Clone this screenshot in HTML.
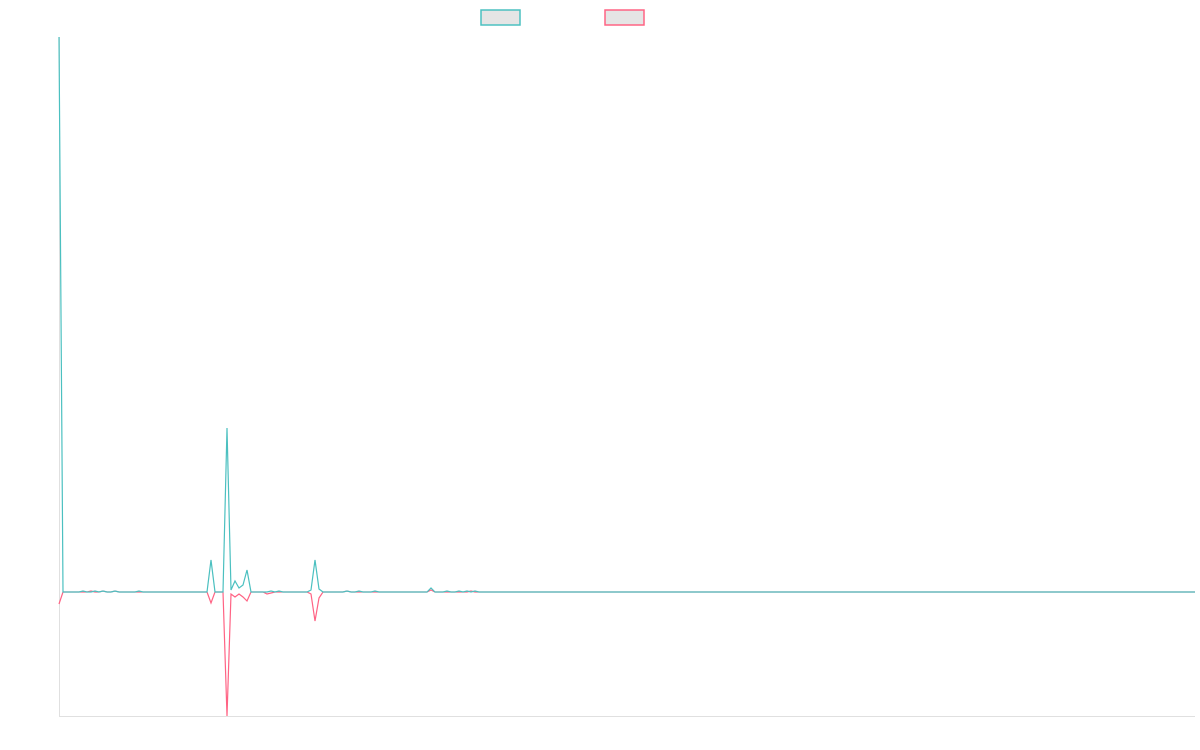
<!DOCTYPE html>
<html><head><meta charset="utf-8"><style>
html,body{margin:0;padding:0;background:#fff;}
svg{display:block;font-family:"Liberation Sans",sans-serif;}
</style></head><body>
<svg id="chart" width="1200" height="750">
<g>
<rect x="481" y="10" width="39" height="15" fill="#e5e5e5" stroke="#4bc0c0" stroke-width="1.5"/>
<rect x="605" y="10" width="39" height="15" fill="#e5e5e5" stroke="#ff6384" stroke-width="1.5"/>
</g>
<line x1="59.5" y1="37" x2="59.5" y2="716" stroke="#e0e0e0"/>
<line x1="59" y1="716.5" x2="1195" y2="716.5" stroke="#e0e0e0"/>
<g id="plot"></g>
</svg>
<script>
const pointCount = 285;
const tealPoints = [[0,555],[6,1],[9,1],[11,1],[14,1],[20,1],[38,32],[42,164],[43,2],[44,11],[45,4],[46,7],[47,22],[53,1],[55,1],[63,2],[64,32],[65,3],[72,1],[75,1],[79,1],[93,4],[97,1],[100,1],[102,1],[104,1]];
const pinkPoints = [[0,-12],[8,1],[11,1],[14,1],[38,-11],[42,-124],[43,-2],[44,-5],[45,-2],[46,-5],[47,-9],[52,-2],[53,-1],[63,-2],[64,-29],[65,-6],[72,1],[93,2],[103,1]];
const yMin = -124, yMax = 555;
const xL = 59, xR = 1195, yTop = 37, yBot = 716;
function xs(i){return xL + (xR-xL)*i/(pointCount-1);}
function ys(v){return yTop + (yMax-v)/(yMax-yMin)*(yBot-yTop);}
function series(sparse){const a=new Array(pointCount).fill(0);sparse.forEach(p=>a[p[0]]=p[1]);return a;}
const plot=document.getElementById('plot');
function draw(vals,color,name){
  const p=document.createElementNS('http://www.w3.org/2000/svg','polyline');
  p.setAttribute('points',vals.map((v,i)=>xs(i).toFixed(2)+','+ys(v).toFixed(2)).join(' '));
  p.setAttribute('fill','none');p.setAttribute('stroke',color);p.setAttribute('stroke-width','1.2');
  
  
  plot.appendChild(p);
}
draw(series(pinkPoints),'#ff6384','series-2-line');
draw(series(tealPoints),'#4bc0c0','series-1-line');
</script>
</body></html>
